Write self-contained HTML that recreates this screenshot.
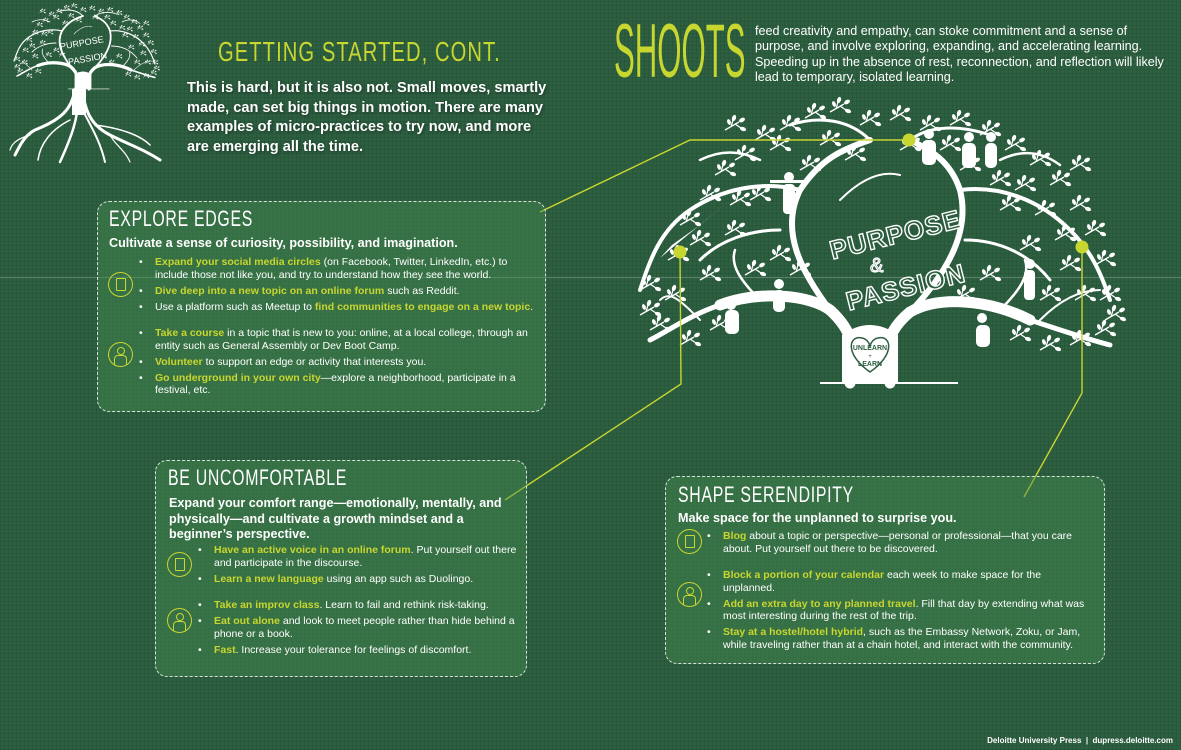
<!DOCTYPE html>
<html><head><meta charset="utf-8">
<style>
*{margin:0;padding:0;box-sizing:border-box}
body{width:1181px;height:750px;overflow:hidden;position:relative;background:#2d5f41;font-family:"Liberation Sans",sans-serif;color:#fff}
.bg{position:absolute;inset:0;background:
repeating-linear-gradient(0deg,rgba(0,0,0,.07) 0 1px,transparent 1px 4px),
repeating-linear-gradient(90deg,rgba(0,0,0,.07) 0 1px,transparent 1px 4px)}
.hl{position:absolute;left:0;top:277px;width:1181px;height:1px;background:rgba(255,255,255,.25)}
.box{position:absolute;border:1.6px dashed rgba(255,255,255,.8);border-radius:12px;background:rgba(70,140,80,.45)}
.t{position:absolute;font-size:22px;letter-spacing:1px;color:#fff;white-space:nowrap;transform-origin:0 0;transform:scaleX(0.72)}
.sub{position:absolute;font-weight:bold;font-size:12.6px;line-height:15.5px}
.ul{position:absolute;font-size:10.5px;line-height:12.5px;list-style:none}
.ul li{position:relative;margin-bottom:3.5px}
.ul li:before{content:"•";position:absolute;left:-16px}
.ul .gap{margin-top:14px}
b.y{color:#c8d630}
.ic{position:absolute;width:25px;height:25px;border:1.6px solid #c8d630;border-radius:50%}
.tab:after{content:"";position:absolute;left:7px;top:5px;width:8px;height:11px;border:1.4px solid #c8d630;border-radius:1px}
.per:before{content:"";position:absolute;left:8px;top:4px;width:6px;height:6px;border:1.4px solid #c8d630;border-radius:50%}
.per:after{content:"";position:absolute;left:5px;top:12px;width:11px;height:9px;border:1.4px solid #c8d630;border-bottom:none;border-radius:4px 4px 0 0}
</style></head><body>
<div class="bg"></div>
<div class="hl"></div>

<svg width="1181" height="750" style="position:absolute;left:0;top:0">
<defs>
<g id="tw">
<path d="M0 0 L14 -8 M6 -3 L8 -10 M10 -6 L16 -2" stroke="#fff" stroke-width="1.3" fill="none"/>
<ellipse cx="9" cy="-12" rx="2" ry="3.2" fill="#fff" transform="rotate(20 9 -12)"/>
<ellipse cx="17" cy="-10" rx="2" ry="3.2" fill="#fff" transform="rotate(60 17 -10)"/>
<ellipse cx="18" cy="-1" rx="2" ry="3.2" fill="#fff" transform="rotate(110 18 -1)"/>
<ellipse cx="4" cy="-8" rx="1.8" ry="3" fill="#fff" transform="rotate(-20 4 -8)"/>
</g>
<g id="tree">
<path d="M850 383 C858 350 852 330 830 310 C810 295 760 290 720 305 M890 383 C882 350 888 330 910 312 C940 295 990 300 1030 320" stroke="#fff" stroke-width="11" fill="none" stroke-linecap="round"/>
<path d="M842 383 L842 335 Q870 315 898 335 L898 383 Z" fill="#fff"/>
<g stroke="#fff" fill="none" stroke-linecap="round">
<path d="M830 310 C800 270 780 230 800 190 C820 160 840 150 870 140" stroke-width="6"/>
<path d="M910 312 C950 270 970 230 960 190 C950 160 930 150 910 140" stroke-width="6"/>
<path d="M800 190 C760 180 720 190 690 210 C660 230 650 260 640 290" stroke-width="4"/>
<path d="M720 305 C690 315 670 330 650 340" stroke-width="5"/>
<path d="M1030 320 C1060 330 1090 340 1110 345" stroke-width="5"/>
<path d="M960 190 C1000 185 1040 200 1070 230 C1090 250 1100 270 1110 300" stroke-width="4"/>
<path d="M870 140 C850 120 820 115 790 125" stroke-width="3"/>
<path d="M910 140 C930 125 960 125 990 135" stroke-width="3"/>
<path d="M780 230 C750 230 720 240 700 260" stroke-width="3"/>
<path d="M965 240 C1000 240 1030 255 1050 280" stroke-width="3"/>
<path d="M760 160 C740 150 720 150 700 160" stroke-width="2.5"/>
<path d="M1000 160 C1020 150 1040 150 1060 165" stroke-width="2.5"/>
<path d="M760 300 C740 280 730 265 735 250" stroke-width="2.5"/>
<path d="M1000 310 C1020 290 1030 275 1025 260" stroke-width="2.5"/>
<path d="M840 200 C860 180 880 170 900 175" stroke-width="2"/>
<path d="M1040 320 C1060 300 1080 290 1100 290" stroke-width="2"/>
<path d="M700 320 C680 300 670 290 660 300" stroke-width="2"/>
</g>
<g>
<use href="#tw" x="640" y="290"/><use href="#tw" x="650" y="330"/><use href="#tw" x="668" y="260"/><use href="#tw" x="680" y="225"/>
<use href="#tw" x="700" y="200"/><use href="#tw" x="715" y="175"/><use href="#tw" x="735" y="160"/>
<use href="#tw" x="755" y="140"/><use href="#tw" x="780" y="130"/><use href="#tw" x="805" y="118"/>
<use href="#tw" x="830" y="112"/><use href="#tw" x="860" y="125"/><use href="#tw" x="890" y="120"/>
<use href="#tw" x="920" y="130"/><use href="#tw" x="950" y="125"/><use href="#tw" x="980" y="135"/>
<use href="#tw" x="1005" y="150"/><use href="#tw" x="1030" y="165"/><use href="#tw" x="1050" y="185"/>
<use href="#tw" x="1070" y="210"/><use href="#tw" x="1085" y="235"/><use href="#tw" x="1095" y="265"/>
<use href="#tw" x="1100" y="300"/><use href="#tw" x="1095" y="335"/><use href="#tw" x="1070" y="345"/>
<use href="#tw" x="1040" y="350"/><use href="#tw" x="1010" y="340"/><use href="#tw" x="680" y="345"/>
<use href="#tw" x="710" y="330"/><use href="#tw" x="700" y="280"/><use href="#tw" x="725" y="235"/>
<use href="#tw" x="750" y="200"/><use href="#tw" x="770" y="260"/><use href="#tw" x="1000" y="210"/>
<use href="#tw" x="1020" y="250"/><use href="#tw" x="1040" y="300"/><use href="#tw" x="980" y="280"/>
<use href="#tw" x="960" y="170"/><use href="#tw" x="800" y="170"/><use href="#tw" x="1060" y="270"/>
<use href="#tw" x="770" y="150"/><use href="#tw" x="820" y="145"/><use href="#tw" x="845" y="160"/>
<use href="#tw" x="940" y="150"/><use href="#tw" x="990" y="185"/><use href="#tw" x="1035" y="215"/>
<use href="#tw" x="730" y="205"/><use href="#tw" x="690" y="245"/><use href="#tw" x="665" y="300"/>
<use href="#tw" x="1075" y="300"/><use href="#tw" x="1055" y="240"/><use href="#tw" x="745" y="275"/>
<use href="#tw" x="1015" y="190"/><use href="#tw" x="725" y="130"/><use href="#tw" x="1070" y="170"/>
<use href="#tw" x="640" y="315"/><use href="#tw" x="1105" y="320"/><use href="#tw" x="790" y="275"/>
<use href="#tw" x="955" y="300"/><use href="#tw" x="900" y="150"/>
</g>
<line x1="820" y1="383" x2="958" y2="383" stroke="#fff" stroke-width="2"/>
</g>
</defs>

<use href="#tree"/>
<path d="M870 372 C845 355 848 335 862 338 C868 339 870 345 870 347 C870 345 872 339 878 338 C892 335 895 355 870 372 Z" fill="none" stroke="#2d5f41" stroke-width="1.5"/>
<g fill="#fff">
<rect x="922" y="140" width="14" height="25" rx="5"/><circle cx="929" cy="134" r="5"/>
<rect x="962" y="143" width="14" height="25" rx="5"/><circle cx="969" cy="137" r="5"/>
<rect x="985" y="143" width="12" height="25" rx="5"/><circle cx="991" cy="137" r="5"/>
<rect x="783" y="184" width="12" height="30" rx="4"/><circle cx="789" cy="177" r="5"/><rect x="770" y="180" width="38" height="3"/>
<rect x="725" y="310" width="14" height="24" rx="5"/><circle cx="731" cy="305" r="5"/>
<rect x="773" y="290" width="12" height="22" rx="5"/><circle cx="779" cy="284" r="5"/>
<rect x="1024" y="270" width="11" height="30" rx="4"/><circle cx="1030" cy="264" r="5"/>
<rect x="976" y="325" width="14" height="22" rx="5"/><circle cx="982" cy="318" r="5"/>
<path d="M660 258 L730 200 L700 225 L672 245 Z"/>
</g>
<text x="830" y="250" font-size="26" font-family="Liberation Sans" transform="rotate(-14 870 245)" font-weight="bold" letter-spacing="1" fill="#2d5f41" stroke="#fff" stroke-width="1.4">PURPOSE</text>
<text x="870" y="272" font-size="20" font-family="Liberation Sans" fill="#2d5f41" stroke="#fff" stroke-width="1.2">&amp;</text>
<text x="845" y="300" font-size="26" font-family="Liberation Sans" transform="rotate(-14 890 290)" font-weight="bold" letter-spacing="1" fill="#2d5f41" stroke="#fff" stroke-width="1.4">PASSION</text>
<text x="870" y="350" fill="#2d5f41" font-size="7" font-weight="bold" text-anchor="middle">UNLEARN</text>
<text x="870" y="358" fill="#2d5f41" font-size="6" text-anchor="middle">+</text>
<text x="870" y="366" fill="#2d5f41" font-size="7" font-weight="bold" text-anchor="middle">LEARN</text>

<g transform="translate(-178,-26) scale(0.3)">
<use href="#tree"/>
</g>
<g stroke="#fff" fill="none" stroke-linecap="round">
<path d="M75 89 C72 110 60 120 35 130 C25 135 20 145 15 155" stroke-width="3"/>
<path d="M82 89 C85 110 90 125 110 135 C130 145 145 150 160 160" stroke-width="3"/>
<path d="M78 100 C78 120 70 140 60 162" stroke-width="2.5"/>
<path d="M80 105 C90 125 100 140 105 162" stroke-width="2"/>
<path d="M70 120 C50 130 40 145 38 160" stroke-width="1.5"/>
<path d="M95 125 C120 128 140 135 150 145" stroke-width="1.5"/>
<path d="M30 135 C20 138 12 142 10 150" stroke-width="1.2"/>
<path d="M110 135 C115 145 125 150 130 162" stroke-width="1.2"/>
</g>
<path d="M72 89 L72 115 L86 115 L86 89 Z" fill="#fff"/>
<text x="60" y="48" fill="#fff" font-size="9" font-family="Liberation Sans" transform="rotate(-10 70 45)">PURPOSE</text>
<text x="68" y="63" fill="#fff" font-size="9" font-family="Liberation Sans" transform="rotate(-10 80 60)">PASSION</text>

<g stroke="#c8d630" stroke-width="1.4" fill="none">
<polyline points="909,140 690,140 540,212"/>
<polyline points="680,252 681,384 505,500"/>
<polyline points="1082,247 1082,393 1024,497"/>
</g>
<g fill="#c8d630">
<circle cx="909" cy="140" r="6.5"/><circle cx="680" cy="252" r="6.5"/><circle cx="1082" cy="247" r="6.5"/>
</g>
</svg>

<div class="t" style="left:218px;top:36px;color:#c8d630;font-size:28px;letter-spacing:1.5px;transform:scaleX(0.72)">GETTING STARTED, CONT.</div>
<div style="position:absolute;left:187px;top:79px;width:370px;font-weight:bold;font-size:14.6px;line-height:19.5px;text-shadow:1px 1px 3px rgba(0,0,0,.4)">This is hard, but it is also not. Small moves, smartly made, can set big things in motion. There are many examples of micro-practices to try now, and more are emerging all the time.</div>

<div style="position:absolute;left:614px;top:14px;color:#c8d630;font-size:76px;line-height:76px;white-space:nowrap;transform:scaleX(0.41);transform-origin:0 0">SHOOTS</div>
<div style="position:absolute;left:755px;top:24px;width:420px;font-size:12.6px;line-height:15.3px">feed creativity and empathy, can stoke commitment and a sense of purpose, and involve exploring, expanding, and accelerating learning. Speeding up in the absence of rest, reconnection, and reflection will likely lead to temporary, isolated learning.</div>

<div class="box" style="left:97px;top:201px;width:449px;height:211px"></div>
<div class="t" style="left:109px;top:206px">EXPLORE EDGES</div>
<div class="sub" style="left:109px;top:236px">Cultivate a sense of curiosity, possibility, and imagination.</div>
<div class="ic tab" style="left:108px;top:272px"></div>
<div class="ic per" style="left:108px;top:342px"></div>
<ul class="ul" style="left:155px;top:256px;width:385px">
<li><b class="y">Expand your social media circles</b> (on Facebook, Twitter, LinkedIn, etc.) to include those not like you, and try to understand how they see the world.</li>
<li><b class="y">Dive deep into a new topic on an online forum</b> such as Reddit.</li>
<li>Use a platform such as Meetup to <b class="y">find communities to engage on a new topic</b>.</li>
<li class="gap"><b class="y">Take a course</b> in a topic that is new to you: online, at a local college, through an entity such as General Assembly or Dev Boot Camp.</li>
<li><b class="y">Volunteer</b> to support an edge or activity that interests you.</li>
<li><b class="y">Go underground in your own city</b>—explore a neighborhood, participate in a festival, etc.</li>
</ul>

<div class="box" style="left:155px;top:460px;width:372px;height:217px"></div>
<div class="t" style="left:168px;top:465px">BE UNCOMFORTABLE</div>
<div class="sub" style="left:169px;top:496px;width:345px">Expand your comfort range—emotionally, mentally, and physically—and cultivate a growth mindset and a beginner’s perspective.</div>
<div class="ic tab" style="left:167px;top:552px"></div>
<div class="ic per" style="left:167px;top:608px"></div>
<ul class="ul" style="left:214px;top:544px;width:305px">
<li><b class="y">Have an active voice in an online forum</b>. Put yourself out there and participate in the discourse.</li>
<li><b class="y">Learn a new language</b> using an app such as Duolingo.</li>
<li class="gap"><b class="y">Take an improv class</b>. Learn to fail and rethink risk-taking.</li>
<li><b class="y">Eat out alone</b> and look to meet people rather than hide behind a phone or a book.</li>
<li><b class="y">Fast</b>. Increase your tolerance for feelings of discomfort.</li>
</ul>

<div class="box" style="left:665px;top:476px;width:440px;height:188px"></div>
<div class="t" style="left:678px;top:482px">SHAPE SERENDIPITY</div>
<div class="sub" style="left:678px;top:511px">Make space for the unplanned to surprise you.</div>
<div class="ic tab" style="left:677px;top:529px"></div>
<div class="ic per" style="left:677px;top:582px"></div>
<ul class="ul" style="left:723px;top:530px;width:368px">
<li><b class="y">Blog</b> about a topic or perspective—personal or professional—that you care about. Put yourself out there to be discovered.</li>
<li class="gap"><b class="y">Block a portion of your calendar</b> each week to make space for the unplanned.</li>
<li><b class="y">Add an extra day to any planned travel</b>. Fill that day by extending what was most interesting during the rest of the trip.</li>
<li><b class="y">Stay at a hostel/hotel hybrid</b>, such as the Embassy Network, Zoku, or Jam, while traveling rather than at a chain hotel, and interact with the community.</li>
</ul>

<div style="position:absolute;right:8px;top:736px;font-size:8px;font-weight:bold">Deloitte University Press &nbsp;|&nbsp; dupress.deloitte.com</div>
</body></html>
